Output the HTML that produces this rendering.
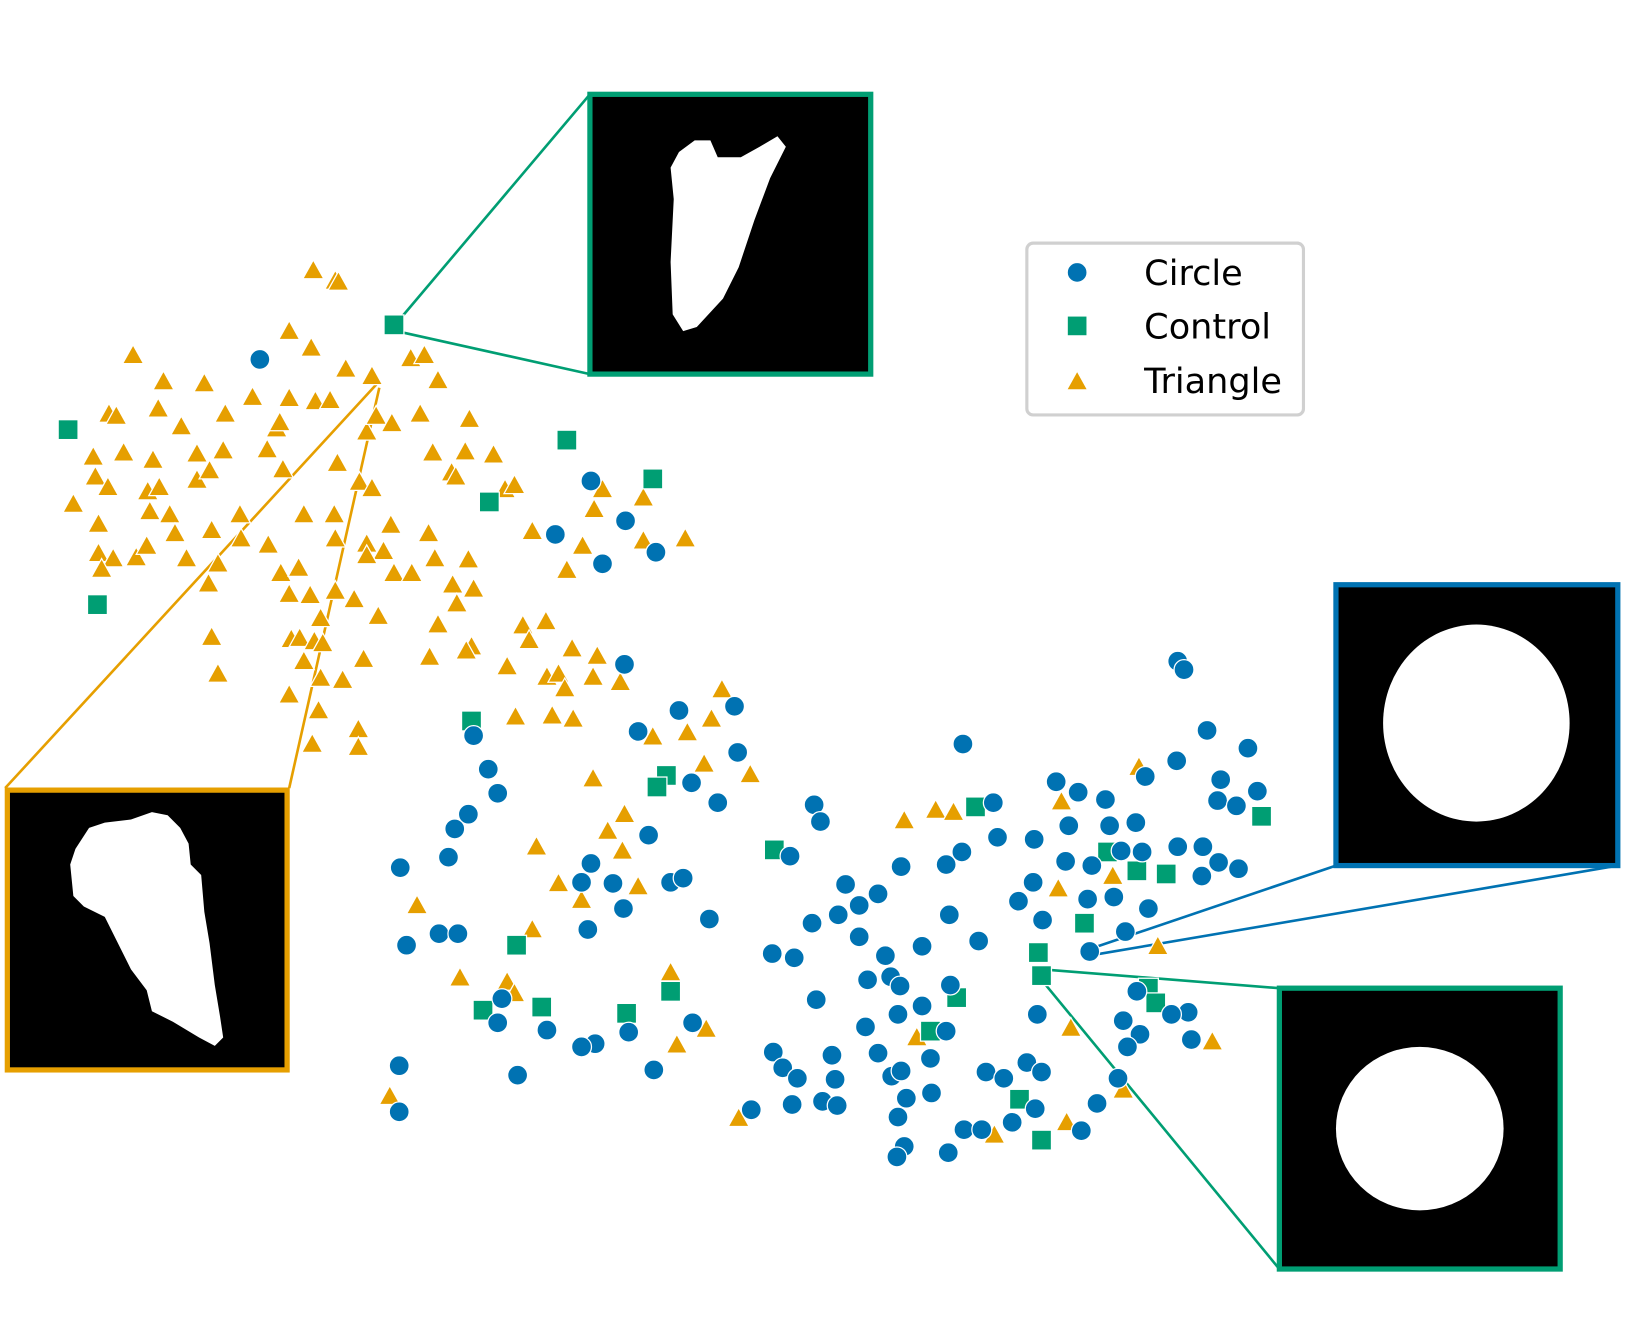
<!DOCTYPE html>
<html><head><meta charset="utf-8"><style>html,body{margin:0;padding:0;background:#fff}svg{display:block}</style></head>
<body>
<svg width="1644" height="1334" viewBox="0 0 1569 1273" preserveAspectRatio="none" xmlns="http://www.w3.org/2000/svg" xmlns:xlink="http://www.w3.org/1999/xlink">
<defs>
<circle id="c" r="9.5" fill="#0072B2" stroke="#fff" stroke-width="1.2"/>
<rect id="s" x="-9.5" y="-9.5" width="19" height="19" fill="#009E73" stroke="#fff" stroke-width="1.2"/>
<path id="t" d="M0,-10 L10,8 L-10,8 Z" fill="#E69F00" stroke="#fff" stroke-width="1.2"/>
</defs>
<g fill="none" stroke-width="2.5">
<line x1="383" y1="303" x2="563" y2="90" stroke="#009E73"/>
<line x1="383" y1="317" x2="563" y2="357" stroke="#009E73"/>
<line x1="360" y1="366" x2="5" y2="752" stroke="#E69F00"/>
<line x1="362" y1="370" x2="276" y2="752" stroke="#E69F00"/>
<line x1="1039" y1="906" x2="1275" y2="826" stroke="#0072B2"/>
<line x1="1039" y1="912" x2="1544" y2="826" stroke="#0072B2"/>
<line x1="994" y1="925" x2="1221" y2="943" stroke="#009E73"/>
<line x1="994" y1="935" x2="1221" y2="1211" stroke="#009E73"/>
</g>
<g>
<use xlink:href="#t" x="299" y="258"/><use xlink:href="#t" x="320" y="268"/><use xlink:href="#t" x="323" y="269"/><use xlink:href="#t" x="276" y="316"/><use xlink:href="#t" x="127" y="339"/><use xlink:href="#t" x="297" y="332"/><use xlink:href="#t" x="156" y="364"/><use xlink:href="#t" x="195" y="366"/><use xlink:href="#t" x="355" y="359"/><use xlink:href="#t" x="330" y="352"/><use xlink:href="#t" x="392" y="342"/><use xlink:href="#t" x="405" y="339"/><use xlink:href="#t" x="418" y="363"/><use xlink:href="#t" x="241" y="379"/><use xlink:href="#t" x="276" y="380"/><use xlink:href="#t" x="301" y="383"/><use xlink:href="#t" x="315" y="382"/><use xlink:href="#t" x="104" y="395"/><use xlink:href="#t" x="111" y="397"/><use xlink:href="#t" x="151" y="390"/><use xlink:href="#t" x="215" y="395"/><use xlink:href="#t" x="173" y="407"/><use xlink:href="#t" x="264" y="409"/><use xlink:href="#t" x="267" y="403"/><use xlink:href="#t" x="350" y="412"/><use xlink:href="#t" x="359" y="397"/><use xlink:href="#t" x="374" y="404"/><use xlink:href="#t" x="401" y="395"/><use xlink:href="#t" x="448" y="400"/><use xlink:href="#t" x="89" y="436"/><use xlink:href="#t" x="118" y="432"/><use xlink:href="#t" x="146" y="439"/><use xlink:href="#t" x="188" y="433"/><use xlink:href="#t" x="213" y="430"/><use xlink:href="#t" x="255" y="429"/><use xlink:href="#t" x="322" y="442"/><use xlink:href="#t" x="270" y="448"/><use xlink:href="#t" x="413" y="432"/><use xlink:href="#t" x="444" y="431"/><use xlink:href="#t" x="471" y="434"/><use xlink:href="#t" x="91" y="455"/><use xlink:href="#t" x="103" y="465"/><use xlink:href="#t" x="141" y="469"/><use xlink:href="#t" x="152" y="465"/><use xlink:href="#t" x="188" y="458"/><use xlink:href="#t" x="200" y="449"/><use xlink:href="#t" x="343" y="460"/><use xlink:href="#t" x="355" y="466"/><use xlink:href="#t" x="431" y="451"/><use xlink:href="#t" x="435" y="455"/><use xlink:href="#t" x="482" y="467"/><use xlink:href="#t" x="491" y="463"/><use xlink:href="#t" x="70" y="481"/><use xlink:href="#t" x="143" y="488"/><use xlink:href="#t" x="162" y="491"/><use xlink:href="#t" x="229" y="491"/><use xlink:href="#t" x="290" y="491"/><use xlink:href="#t" x="319" y="491"/><use xlink:href="#t" x="373" y="501"/><use xlink:href="#t" x="409" y="509"/><use xlink:href="#t" x="94" y="500"/><use xlink:href="#t" x="167" y="509"/><use xlink:href="#t" x="202" y="506"/><use xlink:href="#t" x="230" y="514"/><use xlink:href="#t" x="256" y="520"/><use xlink:href="#t" x="320" y="514"/><use xlink:href="#t" x="350" y="519"/><use xlink:href="#t" x="366" y="526"/><use xlink:href="#t" x="447" y="534"/><use xlink:href="#t" x="508" y="507"/><use xlink:href="#t" x="556" y="521"/><use xlink:href="#t" x="567" y="486"/><use xlink:href="#t" x="575" y="467"/><use xlink:href="#t" x="614" y="475"/><use xlink:href="#t" x="614" y="516"/><use xlink:href="#t" x="654" y="514"/><use xlink:href="#t" x="541" y="544"/><use xlink:href="#t" x="94" y="528"/><use xlink:href="#t" x="108" y="533"/><use xlink:href="#t" x="130" y="532"/><use xlink:href="#t" x="97" y="543"/><use xlink:href="#t" x="140" y="521"/><use xlink:href="#t" x="178" y="533"/><use xlink:href="#t" x="208" y="538"/><use xlink:href="#t" x="268" y="547"/><use xlink:href="#t" x="285" y="542"/><use xlink:href="#t" x="350" y="530"/><use xlink:href="#t" x="376" y="547"/><use xlink:href="#t" x="393" y="547"/><use xlink:href="#t" x="415" y="533"/><use xlink:href="#t" x="199" y="557"/><use xlink:href="#t" x="276" y="567"/><use xlink:href="#t" x="296" y="568"/><use xlink:href="#t" x="320" y="564"/><use xlink:href="#t" x="432" y="558"/><use xlink:href="#t" x="452" y="562"/><use xlink:href="#t" x="436" y="576"/><use xlink:href="#t" x="338" y="572"/><use xlink:href="#t" x="361" y="588"/><use xlink:href="#t" x="306" y="590"/><use xlink:href="#t" x="499" y="597"/><use xlink:href="#t" x="521" y="593"/><use xlink:href="#t" x="418" y="596"/><use xlink:href="#t" x="278" y="610"/><use xlink:href="#t" x="286" y="609"/><use xlink:href="#t" x="202" y="608"/><use xlink:href="#t" x="300" y="612"/><use xlink:href="#t" x="308" y="614"/><use xlink:href="#t" x="505" y="611"/><use xlink:href="#t" x="546" y="619"/><use xlink:href="#t" x="570" y="626"/><use xlink:href="#t" x="450" y="617"/><use xlink:href="#t" x="445" y="621"/><use xlink:href="#t" x="410" y="627"/><use xlink:href="#t" x="290" y="631"/><use xlink:href="#t" x="347" y="629"/><use xlink:href="#t" x="484" y="636"/><use xlink:href="#t" x="522" y="646"/><use xlink:href="#t" x="533" y="643"/><use xlink:href="#t" x="566" y="646"/><use xlink:href="#t" x="592" y="651"/><use xlink:href="#t" x="539" y="657"/><use xlink:href="#t" x="208" y="643"/><use xlink:href="#t" x="306" y="647"/><use xlink:href="#t" x="327" y="649"/><use xlink:href="#t" x="276" y="663"/><use xlink:href="#t" x="689" y="658"/><use xlink:href="#t" x="304" y="678"/><use xlink:href="#t" x="492" y="684"/><use xlink:href="#t" x="527" y="683"/><use xlink:href="#t" x="547" y="686"/><use xlink:href="#t" x="679" y="686"/><use xlink:href="#t" x="656" y="699"/><use xlink:href="#t" x="623" y="703"/><use xlink:href="#t" x="342" y="696"/><use xlink:href="#t" x="298" y="710"/><use xlink:href="#t" x="342" y="713"/><use xlink:href="#t" x="672" y="729"/><use xlink:href="#t" x="716" y="739"/><use xlink:href="#t" x="566" y="743"/><use xlink:href="#t" x="596" y="777"/><use xlink:href="#t" x="580" y="793"/><use xlink:href="#t" x="594" y="812"/><use xlink:href="#t" x="512" y="808"/><use xlink:href="#t" x="533" y="843"/><use xlink:href="#t" x="609" y="846"/><use xlink:href="#t" x="555" y="859"/><use xlink:href="#t" x="398" y="864"/><use xlink:href="#t" x="508" y="887"/><use xlink:href="#t" x="863" y="783"/><use xlink:href="#t" x="893" y="773"/><use xlink:href="#t" x="910" y="775"/><use xlink:href="#t" x="1013" y="765"/><use xlink:href="#t" x="1087" y="732"/><use xlink:href="#t" x="1010" y="848"/><use xlink:href="#t" x="1062" y="836"/><use xlink:href="#t" x="1105" y="903"/><use xlink:href="#t" x="439" y="933"/><use xlink:href="#t" x="484" y="937"/><use xlink:href="#t" x="491" y="948"/><use xlink:href="#t" x="640" y="928"/><use xlink:href="#t" x="674" y="982"/><use xlink:href="#t" x="646" y="997"/><use xlink:href="#t" x="875" y="990"/><use xlink:href="#t" x="1022" y="981"/><use xlink:href="#t" x="1157" y="994"/><use xlink:href="#t" x="372" y="1046"/><use xlink:href="#t" x="705" y="1067"/><use xlink:href="#t" x="949" y="1083"/><use xlink:href="#t" x="1018" y="1071"/><use xlink:href="#t" x="1072" y="1040"/>
</g>
<g>
<use xlink:href="#s" x="376" y="310"/><use xlink:href="#s" x="65" y="410"/><use xlink:href="#s" x="541" y="420"/><use xlink:href="#s" x="623" y="457"/><use xlink:href="#s" x="467" y="479"/><use xlink:href="#s" x="93" y="577"/><use xlink:href="#s" x="450" y="688"/><use xlink:href="#s" x="636" y="740"/><use xlink:href="#s" x="627" y="751"/><use xlink:href="#s" x="931" y="770"/><use xlink:href="#s" x="739" y="811"/><use xlink:href="#s" x="1057" y="813"/><use xlink:href="#s" x="1085" y="831"/><use xlink:href="#s" x="1113" y="834"/><use xlink:href="#s" x="1204" y="779"/><use xlink:href="#s" x="1035" y="881"/><use xlink:href="#s" x="991" y="909"/><use xlink:href="#s" x="994" y="931"/><use xlink:href="#s" x="493" y="902"/><use xlink:href="#s" x="517" y="961"/><use xlink:href="#s" x="461" y="964"/><use xlink:href="#s" x="598" y="967"/><use xlink:href="#s" x="640" y="946"/><use xlink:href="#s" x="913" y="952"/><use xlink:href="#s" x="888" y="984"/><use xlink:href="#s" x="1096" y="943"/><use xlink:href="#s" x="1103" y="957"/><use xlink:href="#s" x="973" y="1049"/><use xlink:href="#s" x="994" y="1088"/>
</g>
<g>
<use xlink:href="#c" x="248" y="343"/><use xlink:href="#c" x="564" y="459"/><use xlink:href="#c" x="597" y="497"/><use xlink:href="#c" x="530" y="510"/><use xlink:href="#c" x="626" y="527"/><use xlink:href="#c" x="575" y="538"/><use xlink:href="#c" x="596" y="634"/><use xlink:href="#c" x="1124" y="631"/><use xlink:href="#c" x="1130" y="639"/><use xlink:href="#c" x="648" y="678"/><use xlink:href="#c" x="701" y="674"/><use xlink:href="#c" x="609" y="698"/><use xlink:href="#c" x="452" y="702"/><use xlink:href="#c" x="704" y="718"/><use xlink:href="#c" x="466" y="734"/><use xlink:href="#c" x="660" y="747"/><use xlink:href="#c" x="475" y="757"/><use xlink:href="#c" x="685" y="766"/><use xlink:href="#c" x="447" y="777"/><use xlink:href="#c" x="434" y="791"/><use xlink:href="#c" x="619" y="797"/><use xlink:href="#c" x="428" y="818"/><use xlink:href="#c" x="382" y="828"/><use xlink:href="#c" x="564" y="824"/><use xlink:href="#c" x="555" y="842"/><use xlink:href="#c" x="585" y="843"/><use xlink:href="#c" x="640" y="842"/><use xlink:href="#c" x="652" y="838"/><use xlink:href="#c" x="595" y="867"/><use xlink:href="#c" x="677" y="877"/><use xlink:href="#c" x="561" y="887"/><use xlink:href="#c" x="419" y="891"/><use xlink:href="#c" x="437" y="891"/><use xlink:href="#c" x="388" y="902"/><use xlink:href="#c" x="919" y="710"/><use xlink:href="#c" x="1152" y="697"/><use xlink:href="#c" x="1191" y="714"/><use xlink:href="#c" x="1123" y="726"/><use xlink:href="#c" x="1093" y="741"/><use xlink:href="#c" x="1165" y="744"/><use xlink:href="#c" x="1008" y="746"/><use xlink:href="#c" x="1029" y="756"/><use xlink:href="#c" x="1055" y="763"/><use xlink:href="#c" x="1200" y="755"/><use xlink:href="#c" x="1162" y="764"/><use xlink:href="#c" x="1180" y="769"/><use xlink:href="#c" x="948" y="766"/><use xlink:href="#c" x="777" y="768"/><use xlink:href="#c" x="783" y="784"/><use xlink:href="#c" x="1020" y="788"/><use xlink:href="#c" x="1059" y="788"/><use xlink:href="#c" x="1084" y="785"/><use xlink:href="#c" x="952" y="799"/><use xlink:href="#c" x="987" y="801"/><use xlink:href="#c" x="918" y="813"/><use xlink:href="#c" x="754" y="817"/><use xlink:href="#c" x="1070" y="812"/><use xlink:href="#c" x="1090" y="813"/><use xlink:href="#c" x="1124" y="808"/><use xlink:href="#c" x="1148" y="808"/><use xlink:href="#c" x="1017" y="822"/><use xlink:href="#c" x="1042" y="826"/><use xlink:href="#c" x="903" y="825"/><use xlink:href="#c" x="860" y="827"/><use xlink:href="#c" x="1163" y="823"/><use xlink:href="#c" x="1182" y="829"/><use xlink:href="#c" x="1147" y="836"/><use xlink:href="#c" x="807" y="844"/><use xlink:href="#c" x="838" y="853"/><use xlink:href="#c" x="986" y="842"/><use xlink:href="#c" x="820" y="864"/><use xlink:href="#c" x="800" y="873"/><use xlink:href="#c" x="972" y="860"/><use xlink:href="#c" x="1038" y="858"/><use xlink:href="#c" x="1063" y="856"/><use xlink:href="#c" x="1096" y="867"/><use xlink:href="#c" x="775" y="881"/><use xlink:href="#c" x="906" y="873"/><use xlink:href="#c" x="995" y="878"/><use xlink:href="#c" x="820" y="894"/><use xlink:href="#c" x="934" y="898"/><use xlink:href="#c" x="880" y="903"/><use xlink:href="#c" x="1074" y="889"/><use xlink:href="#c" x="1040" y="908"/><use xlink:href="#c" x="737" y="910"/><use xlink:href="#c" x="758" y="914"/><use xlink:href="#c" x="845" y="912"/><use xlink:href="#c" x="828" y="935"/><use xlink:href="#c" x="850" y="932"/><use xlink:href="#c" x="859" y="941"/><use xlink:href="#c" x="907" y="940"/><use xlink:href="#c" x="779" y="954"/><use xlink:href="#c" x="880" y="960"/><use xlink:href="#c" x="857" y="968"/><use xlink:href="#c" x="1085" y="946"/><use xlink:href="#c" x="1134" y="966"/><use xlink:href="#c" x="1118" y="968"/><use xlink:href="#c" x="1072" y="974"/><use xlink:href="#c" x="1088" y="987"/><use xlink:href="#c" x="990" y="968"/><use xlink:href="#c" x="826" y="980"/><use xlink:href="#c" x="903" y="984"/><use xlink:href="#c" x="888" y="1010"/><use xlink:href="#c" x="1076" y="999"/><use xlink:href="#c" x="1137" y="992"/><use xlink:href="#c" x="479" y="953"/><use xlink:href="#c" x="475" y="976"/><use xlink:href="#c" x="522" y="983"/><use xlink:href="#c" x="600" y="985"/><use xlink:href="#c" x="568" y="996"/><use xlink:href="#c" x="555" y="999"/><use xlink:href="#c" x="661" y="976"/><use xlink:href="#c" x="738" y="1004"/><use xlink:href="#c" x="747" y="1019"/><use xlink:href="#c" x="794" y="1007"/><use xlink:href="#c" x="838" y="1005"/><use xlink:href="#c" x="761" y="1029"/><use xlink:href="#c" x="797" y="1030"/><use xlink:href="#c" x="851" y="1027"/><use xlink:href="#c" x="860" y="1022"/><use xlink:href="#c" x="941" y="1023"/><use xlink:href="#c" x="958" y="1029"/><use xlink:href="#c" x="980" y="1014"/><use xlink:href="#c" x="994" y="1023"/><use xlink:href="#c" x="1067" y="1029"/><use xlink:href="#c" x="889" y="1043"/><use xlink:href="#c" x="865" y="1048"/><use xlink:href="#c" x="756" y="1054"/><use xlink:href="#c" x="785" y="1051"/><use xlink:href="#c" x="799" y="1055"/><use xlink:href="#c" x="717" y="1059"/><use xlink:href="#c" x="988" y="1058"/><use xlink:href="#c" x="1047" y="1053"/><use xlink:href="#c" x="857" y="1066"/><use xlink:href="#c" x="966" y="1071"/><use xlink:href="#c" x="920" y="1078"/><use xlink:href="#c" x="937" y="1078"/><use xlink:href="#c" x="1032" y="1079"/><use xlink:href="#c" x="863" y="1094"/><use xlink:href="#c" x="856" y="1104"/><use xlink:href="#c" x="905" y="1100"/><use xlink:href="#c" x="381" y="1017"/><use xlink:href="#c" x="494" y="1026"/><use xlink:href="#c" x="624" y="1021"/><use xlink:href="#c" x="381" y="1061"/>
</g>
<rect x="563" y="90" width="268" height="267" fill="#000" stroke="#009E73" stroke-width="5"/>
<polygon fill="#fff" points="648,145 663,134 678,134 685,150 707,150 725,140 742,130 750,140 735,170 720,210 705,255 690,285 665,312 652,316 642,300 640,250 643,190 640,160"/>
<rect x="7" y="754" width="267" height="267" fill="#000" stroke="#E69F00" stroke-width="5"/>
<polygon fill="#fff" points="85,790 100,785 125,782 145,775 160,778 172,790 180,805 182,825 192,835 195,870 200,900 205,940 210,970 213,990 205,998 190,990 165,975 145,965 140,945 125,925 115,905 105,885 100,875 80,865 70,855 67,825 72,810"/>
<rect x="1275" y="558" width="269" height="268" fill="#000" stroke="#0072B2" stroke-width="5"/>
<ellipse cx="1409" cy="690" rx="89" ry="94" fill="#fff"/>
<rect x="1221" y="943" width="268" height="268" fill="#000" stroke="#009E73" stroke-width="5"/>
<ellipse cx="1355" cy="1077" rx="80" ry="78" fill="#fff"/>
<rect x="980" y="232" width="264" height="164" rx="6" fill="#fff" stroke="#d0d0d0" stroke-width="3"/>
<use xlink:href="#c" x="1028" y="260"/>
<use xlink:href="#s" x="1028" y="311"/>
<use xlink:href="#t" x="1028" y="364"/>
<g font-family="DejaVu Sans, Liberation Sans, sans-serif" font-size="33.5" fill="#000">
<text x="1092" y="272">Circle</text>
<text x="1092" y="323">Control</text>
<text x="1092" y="375">Triangle</text>
</g>
</svg>
</body></html>
